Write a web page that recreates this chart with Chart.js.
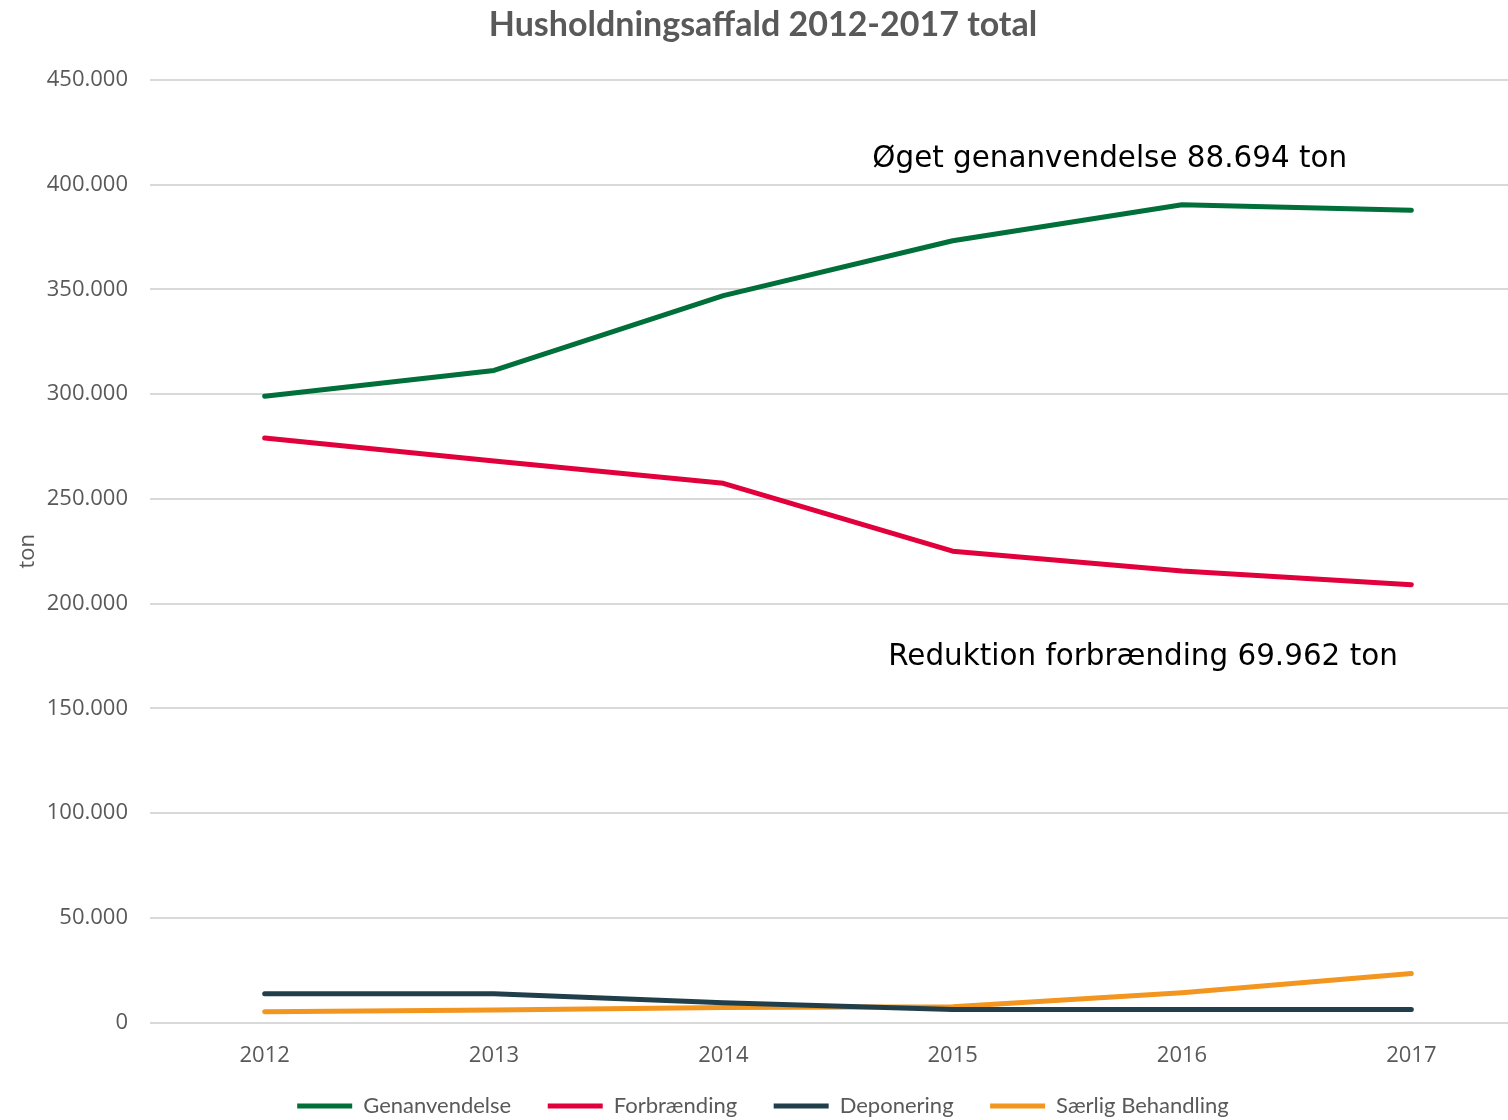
<!DOCTYPE html>
<html>
<head>
<meta charset="utf-8">
<script src="https://cdn.jsdelivr.net/npm/chart.js@4/dist/chart.umd.min.js"></script>
<style>
  html, body { margin: 0; padding: 0; background: #fff; overflow: hidden; }
  canvas { display: block; }
</style>
</head>
<body>
<canvas id="chart" width="1526" height="1127"></canvas>
<script>
// Kategorier og serier (ton)
const years = ['2012', '2013', '2014', '2015', '2016', '2017'];
const genanvendelse = [299000, 311300, 347000, 373200, 390400, 387694];
const forbraending = [279000, 268000, 257400, 225000, 215500, 209038];
const deponering = [13800, 13800, 9500, 6300, 6300, 6300];
const saerligBehandling = [5200, 6000, 7200, 7600, 14300, 23400];

const seriesNames = ['Genanvendelse', 'Forbrænding', 'Deponering', 'Særlig Behandling'];
const seriesColors = ['#006F3A', '#E2003C', '#213F4B', '#F3961F'];

// Tekster i diagrammet: [tekst, kategori-indeks, y-værdi]
const notes = [
    ['Øget genanvendelse 88.694 ton', 3.685, 412000],
    ['Reduktion forbrænding 69.962 ton', 3.83, 174500],
];

function fmtTon(v) {
    return String(v).replace(/\B(?=(\d{3})+(?!\d))/g, '.');
}

const notePlugin = {
    id: 'notes',
    afterDatasetsDraw(chart) {
        const ctx = chart.ctx;
        const x = chart.scales.x, y = chart.scales.y;
        ctx.save();
        ctx.font = '29.4px "DejaVu Sans"';
        ctx.fillStyle = '#000';
        ctx.textAlign = 'center';
        ctx.textBaseline = 'middle';
        notes.forEach(n => {
            ctx.fillText(n[0], x.getPixelForValue(n[1]), y.getPixelForValue(n[2]));
        });
        ctx.restore();
    }
};

const allData = [genanvendelse, forbraending, deponering, saerligBehandling];

new Chart(document.getElementById('chart'), {
    type: 'line',
    data: {
        labels: years,
        datasets: allData.map((d, i) => ({
            label: seriesNames[i],
            data: d,
            borderColor: seriesColors[i],
            backgroundColor: seriesColors[i],
            borderWidth: 5,
            pointRadius: 0,
            borderCapStyle: 'round',
            borderJoinStyle: 'round',
            fill: false,
            tension: 0,
        }))
    },
    options: {
        responsive: false,
        animation: false,
        devicePixelRatio: 1,
        layout: { padding: 0 },
        plugins: {
            title: {
                display: true,
                text: 'Husholdningsaffald 2012-2017 total',
                color: '#595959',
                font: { family: 'Lato', size: 34, weight: 'bold' },
                padding: { top: 5, bottom: 34 }
            },
            legend: {
                position: 'bottom',
                labels: {
                    color: '#595959',
                    font: { family: 'Lato', size: 22 },
                    boxWidth: 55,
                    boxHeight: 5,
                    padding: 14,
                    generateLabels(chart) {
                        const last = chart.data.datasets.length - 1;
                        return chart.data.datasets.map((ds, i) => ({
                            // ekstra luft mellem punkterne som i originalen
                            text: i < last ? ds.label + '    ' : ds.label,
                            fillStyle: ds.borderColor,
                            strokeStyle: ds.borderColor,
                            fontColor: '#595959',
                            lineWidth: 0,
                            datasetIndex: i,
                        }));
                    }
                }
            },
            tooltip: { enabled: false }
        },
        scales: {
            x: {
                offset: true,
                grid: { display: false },
                border: { display: false },
                ticks: { color: '#595959', font: { family: 'Open Sans', size: 22 }, padding: 12 }
            },
            y: {
                min: 0,
                max: 450000,
                afterFit(scale) { scale.width = 150; },
                grid: { color: '#D9D9D9', lineWidth: 2, drawTicks: false },
                border: { display: false },
                ticks: {
                    stepSize: 50000,
                    color: '#595959',
                    font: { family: 'Open Sans', size: 22 },
                    padding: 22,
                    callback: v => fmtTon(v)
                },
                title: {
                    display: true,
                    text: 'ton',
                    color: '#595959',
                    font: { family: 'Open Sans', size: 22 },
                    padding: { top: 15, bottom: 0 }
                }
            }
        }
    },
    plugins: [notePlugin]
});
</script>
</body>
</html>
